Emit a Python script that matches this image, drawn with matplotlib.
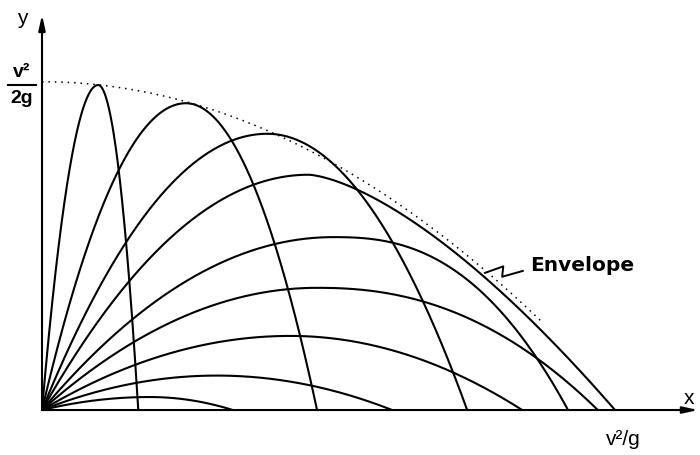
import numpy as np
import matplotlib.pyplot as plt

# trajectories (x in units of v^2/g, y so that v^2/2g = 0.5)
ranges = [0.168, 0.48, 0.742, 1.0, 0.918, 0.970, 0.838, 0.611, 0.333]
peak_x = [0.098, 0.251, 0.393, 0.465, 0.508, 0.480, 0.433, 0.305, 0.188]
peak_y = [0.500, 0.472, 0.425, 0.362, 0.266, 0.188, 0.114, 0.053, 0.020]
# shape of the descending side: 2 = plain parabola
fall_power = [2.0, 2.0, 2.0, 1.5, 2.5, 2.25, 2.0, 2.0, 2.0]

# envelope (dotted)
env_top = 0.505
env_range = 1.02
env_end = 0.874

fig = plt.figure(figsize=(7, 4.55), dpi=100)
ax = fig.add_axes([0, 0, 1, 1])
ax.set_xlim(-0.0733, 1.1483)
ax.set_ylim(-0.0692, 0.6308)
ax.axis('off')

for R, xp, h, p in zip(ranges, peak_x, peak_y, fall_power):
    xs = np.linspace(0, R, 400)
    up = xs <= xp
    ys = np.empty_like(xs)
    ys[up] = h * (1 - ((xp - xs[up]) / xp) ** 2)
    ys[~up] = h * (1 - ((xs[~up] - xp) / (R - xp)) ** p)
    ax.plot(xs, ys, color='black', lw=1.5, solid_capstyle='round')

xe = np.linspace(0, env_end, 200)
ax.plot(xe, env_top * (1 - (xe / env_range) ** 2), color='black', lw=1.1,
        linestyle=(0, (1, 3.2)))

# axes with arrows
arrow = dict(arrowstyle='-|>,head_length=0.9,head_width=0.2', color='black',
             lw=1.5, shrinkA=0, shrinkB=0)
ax.annotate('', xy=(0, 0.608), xytext=(0, 0), arrowprops=arrow)
ax.annotate('', xy=(1.145, 0), xytext=(0, 0), arrowprops=arrow)

font = dict(family=['Liberation Sans', 'DejaVu Sans'], color='black')
ax.text(-0.035, 0.603, 'y', fontsize=15, ha='center', va='center', **font)
ax.text(1.13, 0.017, 'x', fontsize=15, ha='center', va='center', **font)
ax.text(1.014, -0.046, 'v²/g', fontsize=15, ha='center', va='center', **font)
ax.text(-0.035, 0.52, 'v²', fontsize=14, ha='center', va='center',
        fontweight='bold', **font)
ax.plot([-0.0598, -0.0105], [0.5, 0.5], color='black', lw=1.5)
ax.text(-0.035, 0.48, '2g', fontsize=14, ha='center', va='center',
        fontweight='bold', **font)
ax.text(0.851, 0.222, 'Envelope', fontsize=14.5, ha='left', va='center',
        family='DejaVu Sans', fontweight='bold', color='black')

# zigzag leader to the envelope
ax.plot([0.773, 0.805, 0.803, 0.839], [0.211, 0.221, 0.205, 0.214],
        color='black', lw=1.4)

fig.savefig('out.png', dpi=100)
